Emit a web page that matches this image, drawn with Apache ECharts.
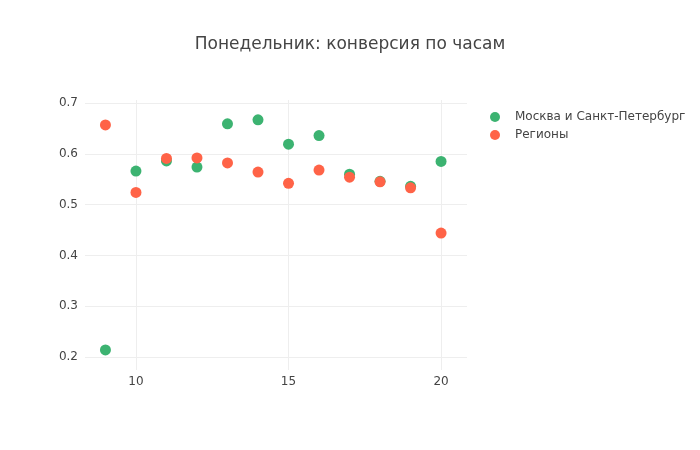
<!DOCTYPE html>
<html>
<head>
<meta charset="utf-8">
<script src="https://cdn.jsdelivr.net/npm/echarts@6/dist/echarts.min.js"></script>
<style>html,body{margin:0;padding:0;background:#fff}#c{width:700px;height:450px}</style>
</head>
<body>
<div id="c"></div>
<script>
const hours = [9, 10, 11, 12, 13, 14, 15, 16, 17, 18, 19, 20];
const mskSpb = [0.214, 0.566, 0.586, 0.574, 0.659, 0.667, 0.619, 0.636, 0.560, 0.546, 0.536, 0.585];
const regions = [0.657, 0.524, 0.591, 0.592, 0.582, 0.564, 0.542, 0.568, 0.554, 0.545, 0.533, 0.444];
const xTicks = [10, 15, 20];
const yTicks = [0.2, 0.3, 0.4, 0.5, 0.6, 0.7];
const seriesNames = ['Москва и Санкт-Петербург', 'Регионы'];

const font = '"DejaVu Sans", verdana, arial, sans-serif';
const chart = echarts.init(document.getElementById('c'));
chart.setOption({
  animation: false,
  backgroundColor: '#fff',
  textStyle: { fontFamily: font },
  title: {
    text: 'Понедельник: конверсия по часам',
    left: 'center',
    top: 36,
    padding: 0,
    textStyle: { fontFamily: font, fontSize: 17, fontWeight: 'normal', color: '#444' }
  },
  legend: {
    orient: 'vertical',
    left: 485,
    top: 106,
    itemWidth: 30,
    itemHeight: 10,
    itemGap: 6,
    icon: 'circle',
    textStyle: { fontFamily: font, fontSize: 12, color: '#444' },
    data: seriesNames
  },
  grid: { left: 85, right: 233, top: 100, bottom: 80, containLabel: false },
  xAxis: {
    type: 'value',
    min: 8.33,
    max: 20.85,
    axisLine: { show: false },
    axisTick: { show: false, customValues: xTicks },
    axisLabel: { customValues: xTicks, color: '#444', fontSize: 12, fontFamily: font, margin: 6 },
    splitLine: { show: true, lineStyle: { color: '#eee', width: 1 } }
  },
  yAxis: {
    type: 'value',
    min: 0.1744,
    max: 0.706,
    axisLine: { show: false },
    axisTick: { show: false, customValues: yTicks },
    axisLabel: { customValues: yTicks, color: '#444', fontSize: 12, fontFamily: font, margin: 7,
      formatter: v => v.toFixed(1) },
    splitLine: { show: true, lineStyle: { color: '#eee', width: 1 } }
  },
  series: [
    {
      name: seriesNames[0], type: 'scatter', symbolSize: 11,
      itemStyle: { color: '#3CB371', opacity: 1 },
      data: hours.map((h, i) => [h, mskSpb[i]])
    },
    {
      name: seriesNames[1], type: 'scatter', symbolSize: 11,
      itemStyle: { color: '#FF6347', opacity: 1 },
      data: hours.map((h, i) => [h, regions[i]])
    }
  ]
});
</script>
</body>
</html>
